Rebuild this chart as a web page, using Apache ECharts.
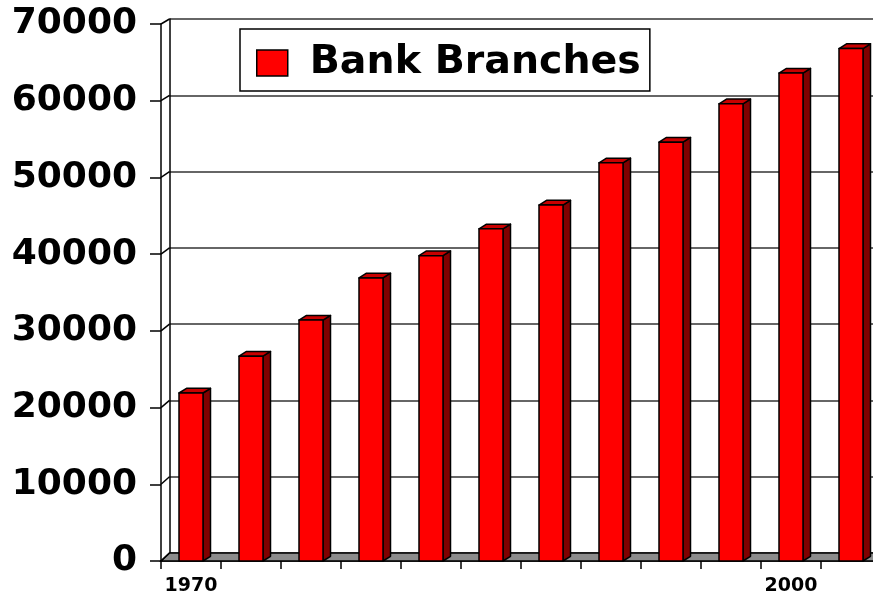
<!DOCTYPE html>
<html>
<head>
<meta charset="utf-8">
<title>Bank Branches</title>
<script src="https://cdn.jsdelivr.net/npm/echarts@6/dist/echarts.min.js"></script>
<style>
  html, body { margin: 0; padding: 0; background: #ffffff; }
  #chart { width: 873px; height: 595px; }
</style>
</head>
<body>
<div id="chart"></div>
<script>
// Number of bank branches, sampled every three years
const years = ['1970', '1973', '1976', '1979', '1982', '1985', '1988', '1991', '1994', '1997', '2000', '2003'];
const branches = [21900, 26700, 31400, 36900, 39800, 43300, 46400, 51900, 54600, 59600, 63600, 66800];
const yTicks = [0, 10000, 20000, 30000, 40000, 50000, 60000, 70000];
const seriesName = 'Bank Branches';

const FONT = 'DejaVu Sans';
// front plane (axes) and back wall (gridlines) of the 3D box
const FRONT = { left: 161, top: 24, width: 720, height: 537 };
const BACK = { left: 169.5, top: 19, width: 720, height: 534 };
// depth offset of each column's side/top faces
const DEPTH_X = 7.5, DEPTH_Y = -4.7;

const chart = echarts.init(document.getElementById('chart'), null, { renderer: 'canvas' });

const yMin = yTicks[0], yMax = yTicks[yTicks.length - 1], yStep = yTicks[1] - yTicks[0];

function renderColumn(params, api) {
  const idx = api.value(0);
  const v = api.value(1);
  const top = api.coord([idx, v]);
  const base = api.coord([idx, 0]);
  const bw = api.size([1, 0])[0] * 0.4;
  const x0 = top[0] - bw / 2, x1 = top[0] + bw / 2;
  const y0 = top[1], y1 = base[1];
  const edge = { stroke: '#000', lineWidth: 1.5, lineJoin: 'round' };
  return {
    type: 'group',
    children: [
      { type: 'polygon',
        shape: { points: [[x1, y0], [x1 + DEPTH_X, y0 + DEPTH_Y], [x1 + DEPTH_X, y1 + DEPTH_Y], [x1, y1]] },
        style: Object.assign({ fill: '#800000' }, edge) },
      { type: 'polygon',
        shape: { points: [[x0, y0], [x0 + DEPTH_X, y0 + DEPTH_Y], [x1 + DEPTH_X, y0 + DEPTH_Y], [x1, y0]] },
        style: Object.assign({ fill: '#c80000' }, edge) },
      { type: 'rect',
        shape: { x: x0, y: y0, width: bw, height: y1 - y0 },
        style: Object.assign({ fill: '#ff0000' }, edge) }
    ]
  };
}

chart.setOption({
  animation: false,
  backgroundColor: '#ffffff',
  grid: [
    Object.assign({ containLabel: false, outerBoundsMode: 'none' }, FRONT),
    Object.assign({ containLabel: false, outerBoundsMode: 'none' }, BACK)
  ],
  legend: {
    left: 240, top: 29,
    backgroundColor: '#ffffff',
    borderColor: '#000', borderWidth: 1.5, borderRadius: 0,
    padding: [14, 9, 8, 16],
    itemWidth: 31, itemHeight: 26,
    selectedMode: false,
    data: [{ name: seriesName, icon: 'rect',
             itemStyle: { color: '#ff0000', borderColor: '#000', borderWidth: 1.5 } }],
    textStyle: { fontFamily: FONT, fontWeight: 'bold', fontSize: 39.5, color: '#000',
                 padding: [0, 0, 0, 17] }
  },
  xAxis: [
    {
      type: 'category', gridIndex: 0, data: years, boundaryGap: true,
      axisLine: { show: true, lineStyle: { color: '#000', width: 1.5 } },
      axisTick: { show: true, interval: 0, length: 8, lineStyle: { color: '#000', width: 1.5 } },
      axisLabel: { interval: 9, margin: 16, fontFamily: FONT, fontWeight: 'bold', fontSize: 19, color: '#000' },
      splitLine: { show: false }
    },
    {
      type: 'category', gridIndex: 1, data: years, show: false
    }
  ],
  yAxis: [
    {
      type: 'value', gridIndex: 0, min: yMin, max: yMax, interval: yStep,
      axisLine: { show: true, lineStyle: { color: '#000', width: 1.5 } },
      axisTick: { show: true, length: 11, lineStyle: { color: '#000', width: 1.5 } },
      axisLabel: { margin: 24, fontFamily: FONT, fontWeight: 'bold', fontSize: 36, color: '#000',
                   formatter: v => String(v) },
      splitLine: { show: false }
    },
    {
      type: 'value', gridIndex: 1, min: yMin, max: yMax, interval: yStep,
      axisLine: { show: true, lineStyle: { color: '#000', width: 1.5 } },
      axisTick: { show: false },
      axisLabel: { show: false },
      splitLine: { show: true, lineStyle: { color: '#333', width: 1.5 } }
    }
  ],
  series: [
    {
      name: seriesName,
      type: 'custom',
      xAxisIndex: 0, yAxisIndex: 0,
      z: 5,
      itemStyle: { color: '#ff0000', borderColor: '#000', borderWidth: 1.5 },
      renderItem: renderColumn,
      encode: { x: 0, y: 1 },
      data: branches.map((v, i) => [i, v])
    }
  ]
});

// side wall diagonals and the floor, placed from the two value scales
const wallLines = yTicks.map(v => {
  const fy = chart.convertToPixel({ yAxisIndex: 0 }, v);
  const by = chart.convertToPixel({ yAxisIndex: 1 }, v);
  return {
    type: 'line', z: 3,
    shape: { x1: FRONT.left, y1: fy, x2: BACK.left, y2: by },
    style: { stroke: '#000', lineWidth: 1.5 }
  };
});
const f0 = chart.convertToPixel({ yAxisIndex: 0 }, yMin);
const b0 = chart.convertToPixel({ yAxisIndex: 1 }, yMin);
const floor = {
  type: 'polygon', z: 1,
  shape: { points: [[FRONT.left, f0], [FRONT.left + FRONT.width, f0],
                    [BACK.left + BACK.width, b0], [BACK.left, b0]] },
  style: { fill: '#8c8c8c', stroke: '#000', lineWidth: 1.5 }
};

chart.setOption({ graphic: [floor].concat(wallLines) });
</script>
</body>
</html>
